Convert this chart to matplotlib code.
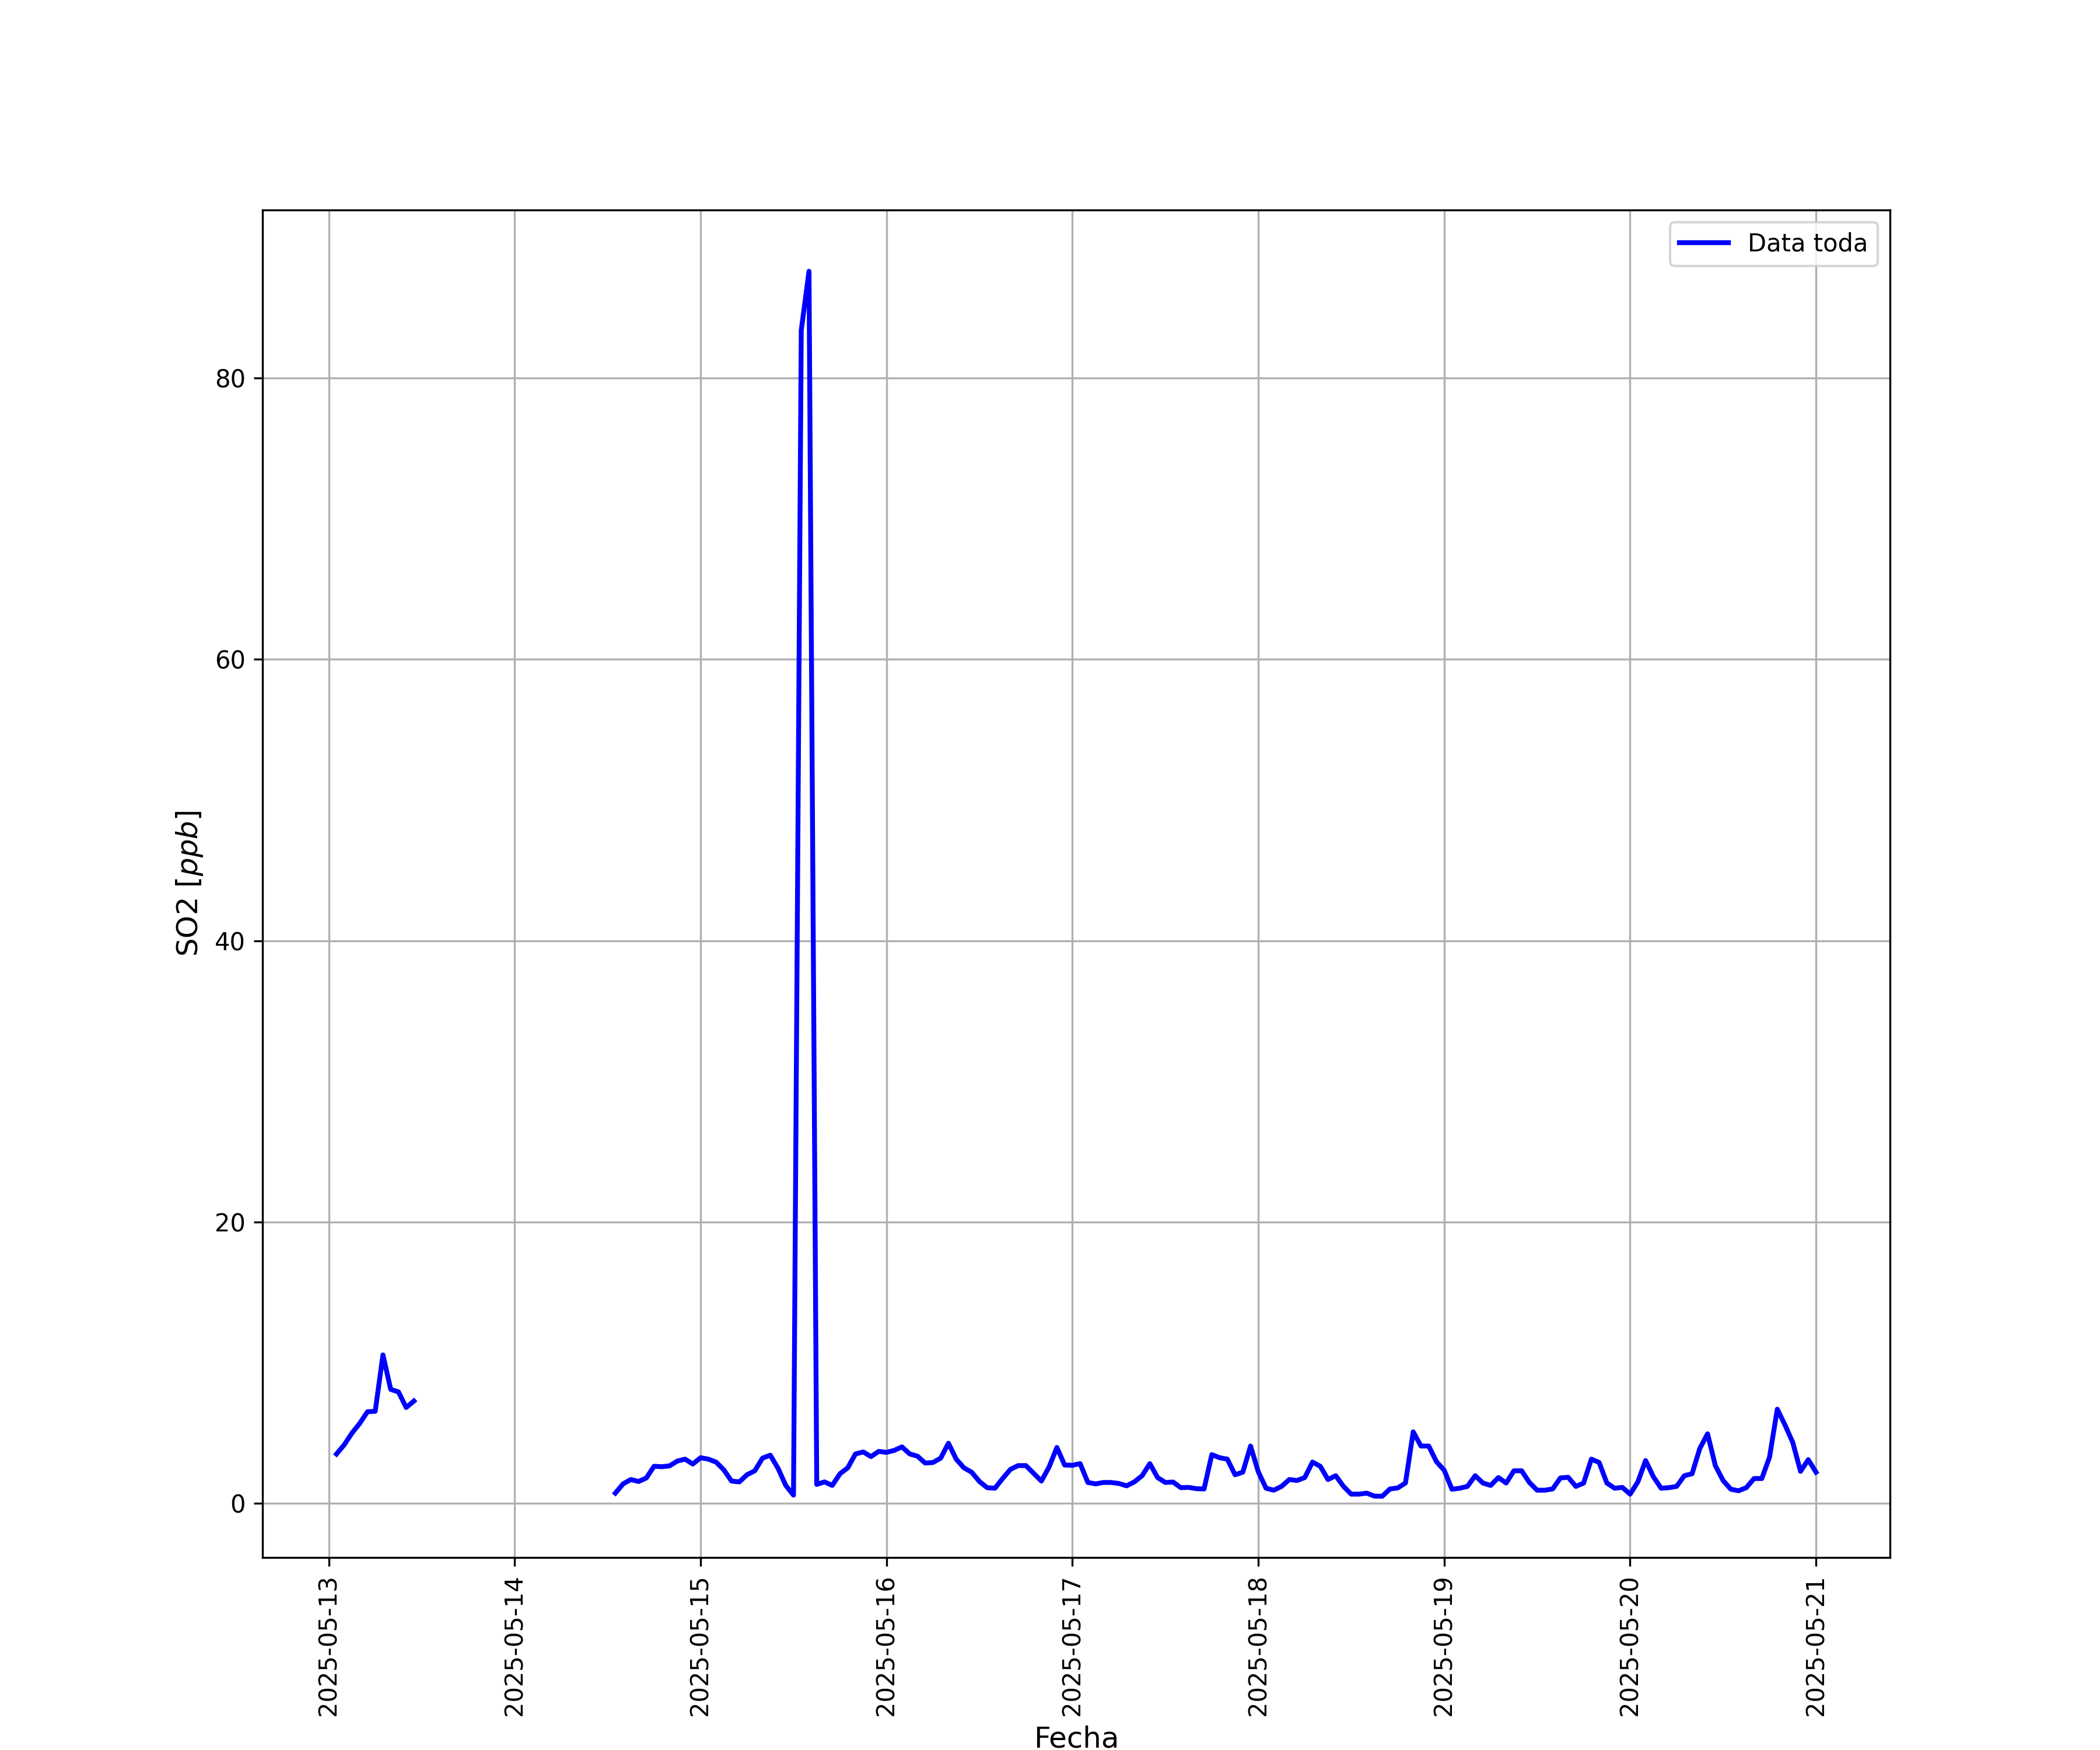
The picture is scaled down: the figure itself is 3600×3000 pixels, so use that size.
"""SO2 hourly series (ppb), 2025-05-13 to 2025-05-21, with a data gap."""

import matplotlib

matplotlib.use("Agg")
import matplotlib.dates as mdates
import matplotlib.pyplot as plt
import numpy as np
import pandas as pd

# First block: hourly, starting 2025-05-13 01:00
SEG1_START = "2025-05-13 01:00"
SEG1_SO2 = [3.5, 4.16, 4.99, 5.68, 6.51, 6.54, 10.55, 8.1, 7.92, 6.81, 7.27]

# Second block: hourly, starting 2025-05-14 13:00, ending 2025-05-21 00:00
SEG2_START = "2025-05-14 13:00"
SEG2_SO2 = [
    0.72, 1.38, 1.69, 1.55, 1.80, 2.63, 2.60, 2.66, 3.00, 3.14, 2.79,
    3.24, 3.14, 2.93, 2.38, 1.58, 1.52, 2.03, 2.31, 3.21, 3.42, 2.49, 1.27, 0.58,
    83.4, 87.6,
    1.34, 1.52, 1.27, 2.10, 2.52, 3.51, 3.65, 3.32, 3.69,
    3.62, 3.76, 4.01, 3.51, 3.35, 2.86, 2.90, 3.21, 4.27, 3.14, 2.52, 2.21, 1.55, 1.11,
    1.07, 1.76, 2.41, 2.68, 2.68, 2.13, 1.58, 2.59, 3.97, 2.72,
    2.70, 2.82, 1.48, 1.38, 1.48, 1.48, 1.41, 1.24, 1.52, 1.96, 2.82, 1.83, 1.48, 1.51, 1.11,
    1.13, 1.04, 1.02, 3.46, 3.24, 3.14, 2.03, 2.21, 4.07,
    2.24, 1.07, 0.93, 1.20, 1.69, 1.62, 1.83, 2.93, 2.63, 1.69, 1.96, 1.20, 0.65, 0.65,
    0.72, 0.51, 0.50, 1.02, 1.09, 1.44, 5.08, 4.07, 4.07, 2.96,
    2.35, 1.00, 1.07, 1.20, 1.96, 1.44, 1.27, 1.83, 1.44, 2.31, 2.31, 1.48, 0.93, 0.93,
    1.02, 1.80, 1.85, 1.20, 1.44, 3.14, 2.90, 1.44, 1.07, 1.13,
    0.65, 1.52, 3.04, 1.89, 1.07, 1.11, 1.20, 1.96, 2.10, 3.90, 4.94, 2.68, 1.62, 1.00,
    0.89, 1.11, 1.76, 1.76, 3.28, 6.69, 5.56, 4.32, 2.27, 3.10,
    2.21,
]

LABEL = "Data toda"


def build_series() -> pd.Series:
    s1 = pd.Series(SEG1_SO2, index=pd.date_range(SEG1_START, periods=len(SEG1_SO2), freq="h"))
    s2 = pd.Series(SEG2_SO2, index=pd.date_range(SEG2_START, periods=len(SEG2_SO2), freq="h"))
    s = pd.concat([s1, s2])
    # hourly index so the missing hours show up as a break in the line
    full_idx = pd.date_range(s.index[0], s.index[-1], freq="h")
    return s.reindex(full_idx)


def plot(series: pd.Series) -> None:
    fig, ax = plt.subplots(figsize=(12, 10))
    ax.plot(series.index, series.values, color="blue", linewidth=2, label=LABEL)

    ax.xaxis.set_major_locator(mdates.DayLocator())
    ax.xaxis.set_major_formatter(mdates.DateFormatter("%Y-%m-%d"))
    plt.setp(ax.get_xticklabels(), rotation=90)

    ax.set_xlabel("Fecha", fontsize=12)
    ax.set_ylabel(r"SO2 [$ppb$]", fontsize=12)
    ax.grid(True)
    ax.legend(loc="upper right")

    fig.savefig("out.png", dpi=300)
    plt.close(fig)


def main() -> None:
    plot(build_series())


if __name__ == "__main__":
    main()
